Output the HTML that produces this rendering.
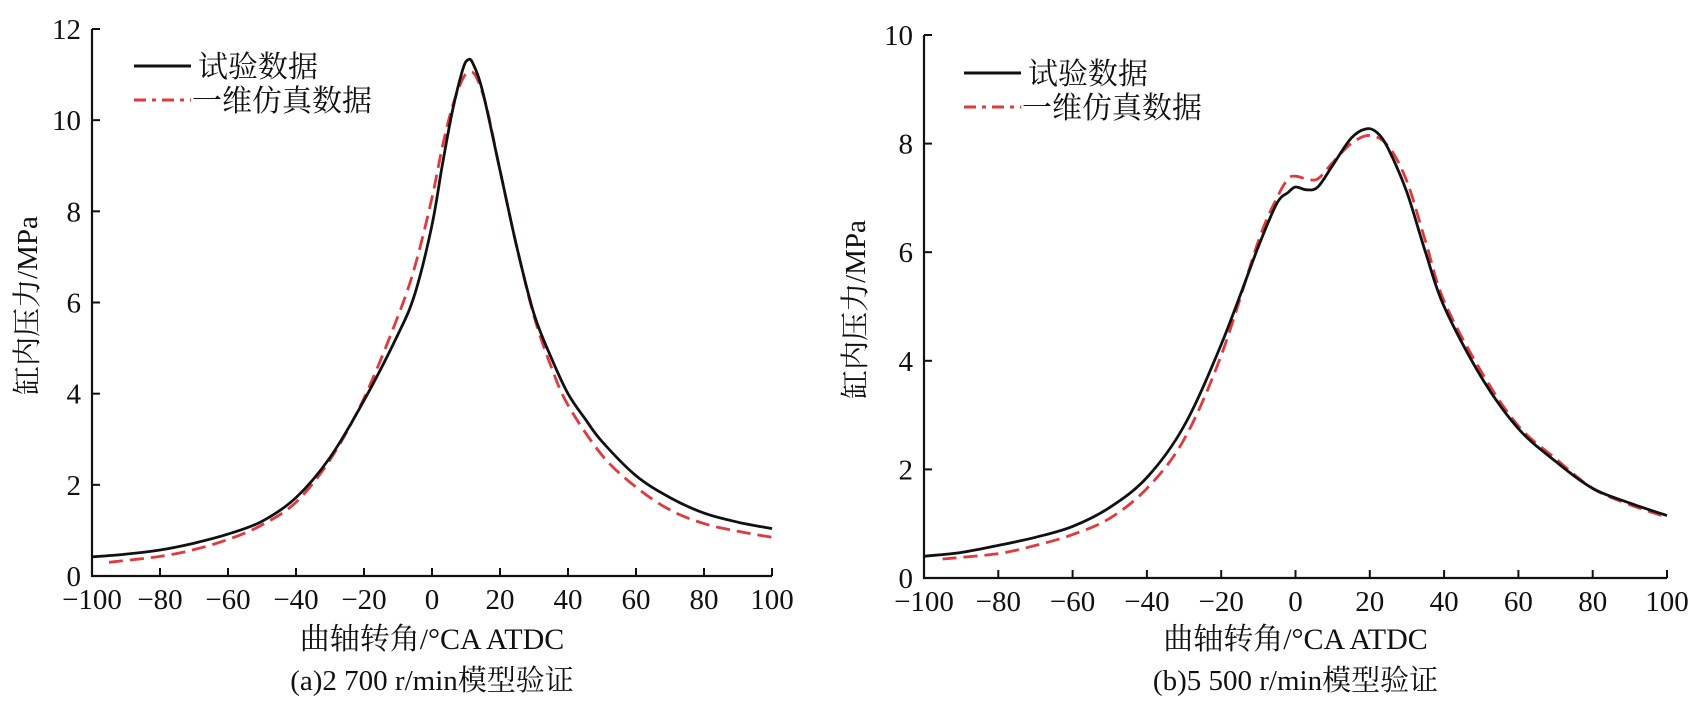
<!DOCTYPE html>
<html><head><meta charset="utf-8"><style>
body{margin:0;background:#fff}
svg{display:block}
text{font-family:"Liberation Serif","Noto Serif CJK SC",serif;fill:#111}
</style></head><body>
<svg id="svg" width="1701" height="711"></svg>
<script>
const xTicks=[-100,-80,-60,-40,-20,0,20,40,60,80,100];
const yTicksA=[0,2,4,6,8,10,12];
const yTicksB=[0,2,4,6,8,10];
const expAx=[-100,-90,-80,-70,-60,-50,-40,-30,-20,-10,-5,0,3,6,9,10.5,12,15,20,25,30,35,40,45,50,60,70,80,90,100];
const expAy=[0.42,0.48,0.57,0.72,0.92,1.2,1.72,2.6,3.85,5.3,6.2,7.7,9.0,10.2,11.1,11.32,11.25,10.6,8.9,7.2,5.75,4.8,4.0,3.45,2.95,2.2,1.72,1.38,1.18,1.04];
const simAx=[-95,-80,-70,-60,-50,-40,-30,-20,-10,-5,0,3,6,9,11,13,16,20,25,30,35,40,50,60,70,80,90,100];
const simAy=[0.3,0.43,0.58,0.8,1.12,1.62,2.55,3.9,5.7,6.8,8.3,9.4,10.3,10.9,11.05,10.95,10.3,8.9,7.2,5.7,4.6,3.75,2.65,1.95,1.45,1.15,0.98,0.85];
const expBx=[-100,-90,-80,-70,-60,-50,-40,-30,-20,-10,-5,-2,0,3,6,10,15,19,22,25,30,35,40,50,60,70,80,90,100];
const expBy=[0.4,0.47,0.6,0.75,0.95,1.3,1.85,2.8,4.3,6.1,6.9,7.1,7.2,7.15,7.2,7.6,8.1,8.27,8.2,7.9,7.1,6.0,5.0,3.7,2.75,2.15,1.65,1.38,1.15];
const simBx=[-95,-80,-70,-60,-50,-40,-30,-20,-10,-5,-2,0,3,6,10,15,20,25,30,35,40,50,60,70,80,90,100];
const simBy=[0.35,0.45,0.6,0.8,1.1,1.65,2.55,4.1,6.2,7.0,7.35,7.4,7.35,7.35,7.65,8.0,8.15,7.95,7.3,6.2,5.1,3.8,2.8,2.2,1.65,1.35,1.12];

const NS='http://www.w3.org/2000/svg';
const svg=document.getElementById('svg');
function mk(tag,attrs,parent){const e=document.createElementNS(NS,tag);for(const k in attrs)e.setAttribute(k,attrs[k]);(parent||svg).appendChild(e);return e;}
function smooth(pts){
  let d='M'+pts[0][0].toFixed(1)+','+pts[0][1].toFixed(1);
  for(let i=0;i<pts.length-1;i++){
    const p0=pts[Math.max(0,i-1)],p1=pts[i],p2=pts[i+1],p3=pts[Math.min(pts.length-1,i+2)];
    const c1=[p1[0]+(p2[0]-p0[0])/6,p1[1]+(p2[1]-p0[1])/6];
    const c2=[p2[0]-(p3[0]-p1[0])/6,p2[1]-(p3[1]-p1[1])/6];
    d+=`C${c1[0].toFixed(1)},${c1[1].toFixed(1)} ${c2[0].toFixed(1)},${c2[1].toFixed(1)} ${p2[0].toFixed(1)},${p2[1].toFixed(1)}`;
  }
  return d;
}
function panel(P){
  const g=mk('g',{});
  
  
  const sx=v=>P.x0+(v+100)/200*(P.x1-P.x0);
  const sy=v=>P.y0-v/P.ymax*(P.y0-P.y1);
  const ax=mk('path',{d:`M${P.x0},${P.y1}V${P.y0}H${P.x1}`,stroke:'#111','stroke-width':2.2,fill:'none'},g);
  
  
  xTicks.forEach(t=>{
    mk('line',{x1:sx(t),x2:sx(t),y1:P.y0,y2:P.y0-8,stroke:'#111','stroke-width':2},g);
    const tx=mk('text',{x:sx(t),y:P.y0+33,'text-anchor':'middle','font-size':29},g);
    tx.textContent=(t<0?'\u2212'+(-t):t);
    
    
  });
  P.yt.forEach(t=>{
    mk('line',{x1:P.x0,x2:P.x0+8,y1:sy(t),y2:sy(t),stroke:'#111','stroke-width':2},g);
    const tx=mk('text',{x:P.x0-11,y:sy(t)+10,'text-anchor':'end','font-size':29},g);
    tx.textContent=t;
    
    
  });
  const line=(xs,ys,dash,color,name)=>{
    const d=smooth(xs.map((x,i)=>[sx(x),sy(ys[i])]));
    const p=mk('path',{d,fill:'none',stroke:color,'stroke-width':2.8,'stroke-linejoin':'round'},g);
    if(dash)p.setAttribute('stroke-dasharray',dash);
    
    
  };
  line(P.sx,P.sy,'14 7','#e0393e','simulation-line');
  line(P.ex,P.ey,null,'#111','experiment-line');
  const lg=mk('g',{},g);
  
  
  mk('line',{x1:P.lx,x2:P.lx+57,y1:P.ly,y2:P.ly,stroke:'#111','stroke-width':3},lg);
  mk('line',{x1:P.lx,x2:P.lx+57,y1:P.ly+34,y2:P.ly+34,stroke:'#e0393e','stroke-width':3,'stroke-dasharray':'12 6 4 6'},lg);
  const t1=mk('text',{x:P.lx+64,y:P.ly+11,'font-size':30},lg);t1.textContent='试验数据';
  
  
  const t2=mk('text',{x:P.lx+58,y:P.ly+45,'font-size':30},lg);t2.textContent='一维仿真数据';
  
  
  const yt=mk('text',{x:0,y:0,'font-size':29,'text-anchor':'middle',transform:`translate(${P.ytx},${(P.y0+P.y1)/2+3}) rotate(-90)`},g);
  yt.textContent='缸内压力/MPa';
  
  
  const xt=mk('text',{x:(P.x0+P.x1)/2,y:649,'font-size':30,'text-anchor':'middle'},g);
  xt.textContent='曲轴转角/°CA ATDC';
  
  
  const cap=mk('text',{x:(P.x0+P.x1)/2,y:690,'font-size':29,'text-anchor':'middle'},g);
  cap.textContent=P.cap;
  
  
}
panel({name:'chart-a',x0:92,x1:772,y0:576,y1:29,ymax:12,yt:yTicksA,ex:expAx,ey:expAy,sx:simAx,sy:simAy,lx:134,ly:66,ytx:37,cap:'(a)2 700 r/min模型验证'});
panel({name:'chart-b',x0:924,x1:1667,y0:578,y1:35,ymax:10,yt:yTicksB,ex:expBx,ey:expBy,sx:simBx,sy:simBy,lx:964,ly:73,ytx:865,cap:'(b)5 500 r/min模型验证'});
</script>
</body></html>
